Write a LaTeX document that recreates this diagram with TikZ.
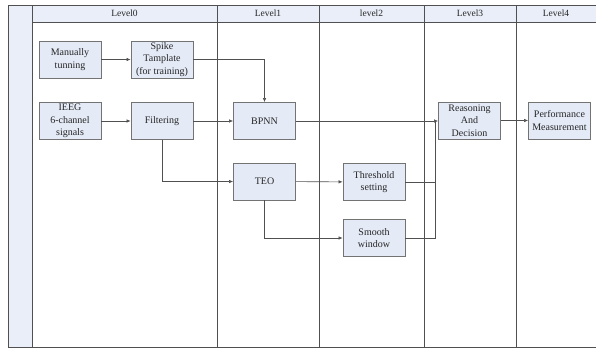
\documentclass[tikz,border=0pt]{standalone}
\usepackage{fontspec}
\setmainfont{Liberation Serif}
\usetikzlibrary{arrows.meta}
\definecolor{boxfill}{HTML}{E4EAF6}
\definecolor{hdrfill}{HTML}{E9EEF8}
\definecolor{linec}{HTML}{505050}
\tikzset{
  stepbox/.style={draw=linec!80, fill=boxfill, line width=0.8pt, minimum width=62pt, minimum height=37pt, inner sep=1pt, align=center, font=\fontsize{10}{12.5}\selectfont, text=black!85},
  hdr/.style={font=\fontsize{9.5}{11}\selectfont, text=black!85},
  conn/.style={draw=linec, line width=0.6pt},
  arr/.style={conn, -{Latex[length=4pt,width=3.5pt]}},
  lane/.style={draw=linec, line width=0.7pt}
}
\begin{document}
\begin{tikzpicture}[x=1pt,y=-1pt]
\useasboundingbox (0,0) rectangle (596,349);
% pool background
\fill[white] (8,5) rectangle (596,347);
\fill[hdrfill] (8,5) rectangle (32,347);
\fill[hdrfill] (32,5) rectangle (596,22);
\draw[lane] (596,5) -- (8,5) -- (8,347) -- (596,347);
\draw[lane] (32,5) -- (32,347);
\draw[lane] (32,22) -- (596,22);
\foreach \x in {217,319,424,516} \draw[lane] (\x,5) -- (\x,347);
% headers
\node[hdr] (h0) at (124.5,13.5) {Level0};
\node[hdr] (h1) at (268,13.5) {Level1};
\node[hdr] (h2) at (371.5,13.5) {level2};
\node[hdr] (h3) at (470,13.5) {Level3};
\node[hdr] (h4) at (556,13.5) {Level4};
% boxes
\node[stepbox] (man) at (70,59.5) {Manually\\tunning};
\node[stepbox] (spike) at (162,59.5) {Spike\\Tamplate\\(for training)};
\node[stepbox] (ieeg) at (70,121) {IEEG\\6-channel\\signals};
\node[stepbox] (filt) at (162,121) {Filtering};
\node[stepbox] (bpnn) at (264.5,121) {BPNN};
\node[stepbox] (teo) at (264.5,181.5) {TEO};
\node[stepbox] (thr) at (374,182) {Threshold\\setting};
\node[stepbox] (smo) at (374,238) {Smooth\\window};
\node[stepbox] (rea) at (469.5,120.5) {Reasoning\\And\\Decision};
\node[stepbox] (perf) at (559.5,120.5) {Performance\\Measurement};
% connectors
\coordinate (j) at (435,121);
\draw[arr] (man) -- (spike);
\draw[arr] (spike.east |- 0,59.5) -| (bpnn.north);
\draw[arr] (ieeg) -- (filt);
\draw[arr] (filt) -- (bpnn);
\draw[arr] (filt.south) |- (teo.west);
\draw[arr] (teo) -- (thr);
\draw[arr] (teo.south) |- (smo.west);
\draw[arr] (bpnn.east) -- (rea.west |- j);
\draw[conn] (thr.east) -| (j);
\draw[conn] (smo.east) -| (j);
\draw[arr] (rea) -- (perf);
\end{tikzpicture}
\end{document}
